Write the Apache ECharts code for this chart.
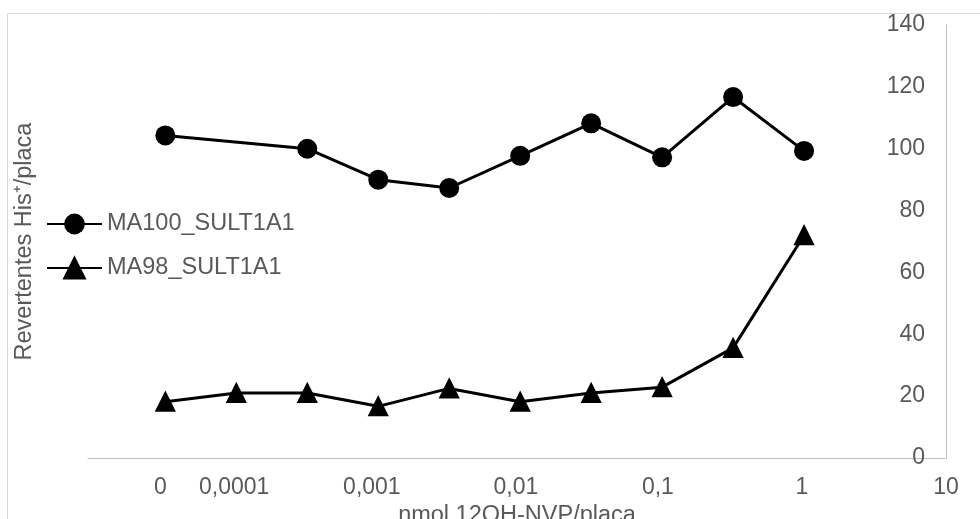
<!DOCTYPE html>
<html>
<head>
<meta charset="utf-8">
<script src="https://cdn.jsdelivr.net/npm/echarts@6/dist/echarts.min.js"></script>
<style>
html, body { margin: 0; padding: 0; background: #fff; }
#chart { width: 980px; height: 519px; }
</style>
</head>
<body>
<div id="chart"></div>
<script>
// dose steps on the x axis (half decades), step 0 = no dose
const doseSteps = [0, 1, 2, 3, 4, 5, 6, 7, 8, 9];
const ma100 = [104.3, null, 100, 90, 87.3, 97.7, 108.2, 97.2, 116.7, 99.3];
const ma98 = [18.2, 21, 21, 16.7, 22.5, 18.2, 21, 22.9, 35.6, 72];
const xTickPos = [-0.07, 0.97, 2.91, 4.94, 6.94, 8.97, 11];
const xTickLabels = ['0', '0,0001', '0,001', '0,01', '0,1', '1', '10'];
const yTicks = [0, 20, 40, 60, 80, 100, 120, 140];

const textColor = '#595959';
const axisColor = '#bfbfbf';
const font = 'Liberation Sans, Arial, sans-serif';

const toPairs = vals => doseSteps
    .map((x, i) => [x, vals[i]])
    .filter(p => p[1] !== null);

const chart = echarts.init(document.getElementById('chart'));

const option = {
    animation: false,
    graphic: [{
        type: 'rect',
        shape: { x: 7.5, y: 13.5, width: 1000, height: 600 },
        style: { fill: 'none', stroke: '#d9d9d9', lineWidth: 1 },
        silent: true
    }],
    grid: { left: 88, right: 34, top: 25, bottom: 61, containLabel: false, outerBoundsMode: 'none' },
    legend: {
        orient: 'vertical',
        left: 41,
        top: 207,
        itemWidth: 55,
        itemHeight: 26,
        itemGap: 20,
        textStyle: { color: textColor, fontSize: 23.5, fontFamily: font },
        data: ['MA100_SULT1A1', 'MA98_SULT1A1']
    },
    xAxis: {
        type: 'value',
        min: -1.09,
        max: 11,
        name: 'nmol 12OH-NVP/placa',
        nameLocation: 'middle',
        nameGap: 44,
        nameTextStyle: { color: textColor, fontSize: 23.5, fontFamily: font },
        axisLine: { show: true, onZero: false, lineStyle: { color: axisColor, width: 1 } },
        axisTick: { show: false },
        splitLine: { show: false },
        axisLabel: {
            customValues: xTickPos,
            margin: 18,
            color: textColor,
            fontSize: 23,
            fontFamily: font,
            formatter: v => {
                let best = 0;
                xTickPos.forEach((p, i) => {
                    if (Math.abs(p - v) < Math.abs(xTickPos[best] - v)) best = i;
                });
                return xTickLabels[best];
            }
        }
    },
    yAxis: [{
        type: 'value',
        position: 'right',
        min: yTicks[0],
        max: yTicks[yTicks.length - 1],
        interval: yTicks[1] - yTicks[0],
        axisLine: { show: true, onZero: false, lineStyle: { color: axisColor, width: 1 } },
        axisTick: { show: false },
        splitLine: { show: false },
        axisLabel: {
            inside: true,
            margin: 21,
            color: textColor,
            fontSize: 23,
            fontFamily: font
        }
    }, {
        // left axis carrying only the title
        type: 'value',
        position: 'left',
        min: yTicks[0],
        max: yTicks[yTicks.length - 1],
        name: 'Revertentes His⁺/placa',
        nameLocation: 'middle',
        nameRotate: 90,
        nameGap: 51,
        nameTextStyle: { color: textColor, fontSize: 23.5, fontFamily: font },
        axisLine: { show: false, onZero: false },
        axisTick: { show: false },
        axisLabel: { show: false },
        splitLine: { show: false }
    }],
    series: [{
        name: 'MA100_SULT1A1',
        type: 'line',
        data: toPairs(ma100),
        symbol: 'circle',
        symbolSize: 20,
        lineStyle: { color: '#000', width: 3 },
        itemStyle: { color: '#000' }
    }, {
        name: 'MA98_SULT1A1',
        type: 'line',
        data: toPairs(ma98),
        symbol: 'triangle',
        symbolSize: 18,
        lineStyle: { color: '#000', width: 3 },
        itemStyle: { color: '#000', borderColor: '#000', borderWidth: 2 }
    }]
};

chart.setOption(option);
</script>
</body>
</html>
